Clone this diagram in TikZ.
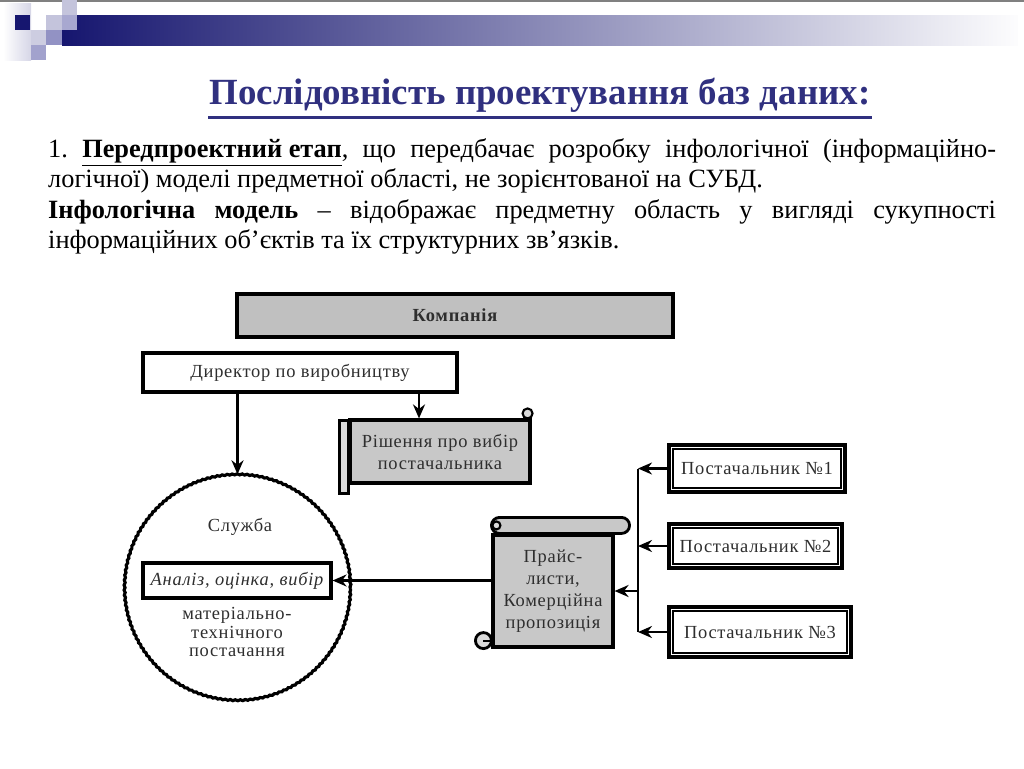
\documentclass[tikz,border=0pt]{standalone}
\usepackage{fontspec}
\setmainfont{Liberation Serif}
\newfontfamily\diagfont[LetterSpace=4]{Liberation Serif}
\usetikzlibrary{arrows.meta,decorations.pathmorphing}
\definecolor{titleblue}{HTML}{30307F}
\definecolor{barnavy}{HTML}{16166F}
\definecolor{lavlight}{HTML}{C4C4DC}
\definecolor{lavmid}{HTML}{9292C4}
\definecolor{boxgray}{HTML}{C0C0C0}
\definecolor{scrollgray}{HTML}{C8C8C8}
\definecolor{rollgray}{HTML}{DADADA}
\definecolor{inkgray}{HTML}{2E2E2E}
\frenchspacing

\begin{document}
\begin{tikzpicture}[x=0.02cm, y=-0.02cm, line width=1.4pt, >={Stealth[length=2.8mm,width=2.4mm]},
  box/.style={draw=black, line width=1.8pt, inner sep=0pt, align=center, text=inkgray,
    font=\diagfont\fontsize{10.5}{12.5}\selectfont},
  scroll/.style={box, fill=scrollgray},
  postbox/.style={box, fill=white, line width=2pt},
  body/.style={anchor=base west, inner sep=0pt, font=\fontsize{15}{17}\selectfont}]
  \useasboundingbox (0,0) rectangle (1024,768);

  % slide corner
  \draw[gray, line width=0.8pt] (0,1) -- (1024,1);
  \fill[left color=white, right color=lavlight!70] (3,3) rectangle (31,60);
  \shade[left color=barnavy, right color=white!96!lavlight] (62,15) rectangle (1018,45);
  \fill[barnavy] (15,15) rectangle (30,30);
  \fill[lavlight] (46,15) rectangle (62,30);
  \fill[lavlight] (62,0) rectangle (77,15);
  \fill[lavmid!80!white] (62,15) rectangle (77,30);
  \fill[lavlight!85!white] (31,30) rectangle (46,45);
  \fill[lavmid] (46,30) rectangle (62,45);
  \fill[lavmid!85!white] (31,45) rectangle (46,60);

  % title and text
  \node[inner sep=0pt, text=titleblue, font=\fontsize{21}{24}\selectfont\bfseries] (title) at (540,95)
    {Послідовність проектування баз даних:};
  \draw[titleblue, line width=1.6pt] ([shift={(0,4)}]title.south west) -- ([shift={(0,4)}]title.south east);

  \node[body] (line1) at (47,157) {\makebox[18.96cm][s]{1. \textbf{\underline{Передпроектний етап}}, що передбачає розробку інфологічної (інформаційно-}};
  \node[body] (line2) at (47,187) {логічної) моделі предметної області, не зорієнтованої на СУБД.};
  \node[body] (line3) at (47,218) {\makebox[18.96cm][s]{\textbf{Інфологічна модель} – відображає предметну область у вигляді сукупності}};
  \node[body] (line4) at (47,248) {інформаційних об’єктів та їх структурних зв’язків.};

  % boxes
  \node[box, fill=boxgray, minimum width=8.72cm, minimum height=0.86cm] (komp) at (455,315.5) {\bfseries Компанія};
  \node[box, fill=white, minimum width=6.28cm, minimum height=0.78cm] (dir) at (300,372.5) {Директор по виробництву};

  \node[scroll, minimum width=3.6cm, minimum height=1.26cm] (rish) at (440,451.5) {Рішення про вибір\\постачальника};
  \filldraw[fill=rollgray, line width=1.4pt] ([shift={(-9,2)}]rish.north west) rectangle ([shift={(0,9)}]rish.south west);
  \filldraw[fill=rollgray, line width=1.2pt] ([shift={(-4,-5)}]rish.north east) circle (0.1cm);

  \node[minimum size=4.52cm, circle, inner sep=0pt] (sluzhba) at (237.5,588.5) {};
  \draw[line width=1.8pt, decorate, decoration={snake, segment length=1mm, amplitude=0.1mm}]
    (sluzhba.center) circle (2.26cm);
  \node[text=inkgray, font=\diagfont\fontsize{10.5}{12.5}\selectfont] (slname) at (240,527) {Служба};
  \node[box, fill=white, minimum width=3.76cm, minimum height=0.7cm] (analiz) at (237,580.5) {\itshape Аналіз, оцінка, вибір};
  \node[text=inkgray, align=center, font=\diagfont\fontsize{10.5}{10.5}\selectfont] (sltext) at (237,632)
    {матеріально-\\технічного\\постачання};

  \node[scroll, minimum width=2.4cm, minimum height=2.24cm] (prais) at (553,591)
    {Прайс-\\листи,\\Комерційна\\пропозиція};
  \filldraw[fill=scrollgray, line width=1.6pt, rounded corners=0.16cm]
    ([shift={(0,-16)}]prais.north west) rectangle ([shift={(15,0)}]prais.north east);
  \filldraw[fill=rollgray, line width=1.2pt] ([shift={(5,-8)}]prais.north west) circle (0.08cm);
  \filldraw[fill=rollgray, line width=1.6pt] ([shift={(-8,-8)}]prais.south west) circle (0.16cm);
  \draw[line width=1.1pt] ([shift={(-8,-8)}]prais.south west) -- ([shift={(0,-8)}]prais.south west);

  \node[postbox, minimum width=3.52cm, minimum height=0.94cm] (post1) at (757,468.5) {Постачальник №1};
  \node[postbox, minimum width=3.46cm, minimum height=0.88cm] (post2) at (755.5,546) {Постачальник №2};
  \node[postbox, minimum width=3.64cm, minimum height=1.0cm] (post3) at (760,632) {Постачальник №3};
  \foreach \p in {post1,post2,post3}
    \draw[line width=1pt] ([shift={(6,6)}]\p.north west) rectangle ([shift={(-6,-6)}]\p.south east);

  % connectors
  \coordinate (spine) at (638,0);
  \coordinate (rishin) at ([shift={(-21,0)}]rish.north);
  \draw[->] (sluzhba.north |- dir.south) -- (sluzhba.north);
  \draw[->] (rishin |- dir.south) -- (rishin);
  \draw[->] (prais.west |- analiz.east) -- (analiz.east);
  \draw (post1.west -| spine) -- (post3.west -| spine);
  \draw[->] (post1.west) -- (post1.west -| spine);
  \draw[->] (post2.west) -- (post2.west -| spine);
  \draw[->] (post3.west) -- (post3.west -| spine);
  \draw[->] (prais.east -| spine) -- (prais.east);
\end{tikzpicture}
\end{document}
